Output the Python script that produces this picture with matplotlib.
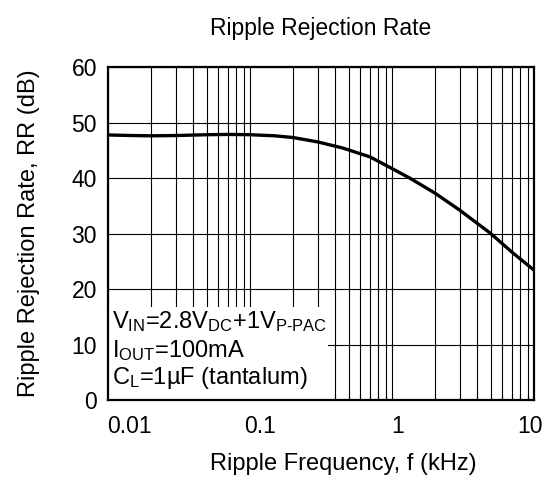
import matplotlib
matplotlib.use("Agg")
import matplotlib.pyplot as plt
import matplotlib.transforms as mtransforms
from matplotlib.patches import Rectangle
from matplotlib.ticker import LogLocator, NullFormatter

plt.rcParams['font.family'] = ['Liberation Sans', 'DejaVu Sans']
plt.rcParams['mathtext.fontset'] = 'custom'
plt.rcParams['mathtext.rm'] = 'Liberation Sans'
plt.rcParams['mathtext.it'] = 'Liberation Sans'

# data
freq_khz = [0.01, 0.015, 0.02, 0.03, 0.05, 0.07, 0.1, 0.15, 0.2, 0.3,
            0.45, 0.7, 0.92, 1.33, 2.0, 3.0, 4.9, 7.1, 10]
rr_db = [47.75, 47.65, 47.6, 47.65, 47.8, 47.85, 47.8, 47.6, 47.3, 46.5,
         45.4, 43.8, 42.2, 40.0, 37.3, 34.2, 30.1, 26.5, 23.4]
x_ticks = [0.01, 0.1, 1, 10]
x_tick_labels = ['0.01', '0.1', '1', '10']
y_ticks = [0, 10, 20, 30, 40, 50, 60]

fig = plt.figure(figsize=(5.59, 4.82), dpi=100)
ax = fig.add_axes([108/559, 1-400/482, (534-108)/559, (400-67)/482])

ax.set_xscale('log')
ax.set_xlim(0.01, 10)
ax.set_ylim(0, 60)

ax.xaxis.set_minor_locator(LogLocator(base=10, subs=range(2, 10)))
ax.xaxis.set_minor_formatter(NullFormatter())
ax.set_xticks(x_ticks)
ax.set_xticklabels(x_tick_labels)
ax.set_yticks(y_ticks)

ax.grid(which='major', axis='both', color='black', lw=0.8, zorder=1)
ax.grid(which='minor', axis='x', color='black', lw=0.8, zorder=1)

ax.tick_params(axis='both', which='both', direction='in', labelsize=16.5)
ax.tick_params(axis='x', which='major', length=0, pad=11)
ax.tick_params(axis='x', which='minor', length=4, width=0.8)
ax.tick_params(axis='y', which='major', length=0, pad=8)

# shift x tick labels like the reference
offsets = [21, 10, 6, -4]
for lbl, dx in zip(ax.get_xticklabels(), offsets):
    lbl.set_transform(lbl.get_transform() + mtransforms.ScaledTranslation(dx/100, 0, fig.dpi_scale_trans))

for sp in ax.spines.values():
    sp.set_linewidth(1.6)
    sp.set_zorder(5)

ax.plot(freq_khz, rr_db, color='black', lw=2.4, zorder=4, solid_capstyle='butt')

# white condition box
ax.add_patch(Rectangle((0, 0), 0.516, 0.28, transform=ax.transAxes,
                       facecolor='white', edgecolor='none', zorder=2))
fs = 17
ax.text(0.01, 0.216, r'V$_{\mathregular{IN}}$=2.8V$_{\mathregular{DC}}$+1V$_{\text{P-PAC}}$',
        transform=ax.transAxes, fontsize=fs, va='baseline', ha='left', zorder=3)
ax.text(0.01, 0.128, r'I$_{\mathregular{OUT}}$=100mA',
        transform=ax.transAxes, fontsize=fs, va='baseline', ha='left', zorder=3)
ax.text(0.01, 0.048, r'C$_{\mathregular{L}}$=1µF (tantalum)',
        transform=ax.transAxes, fontsize=fs, va='baseline', ha='left', zorder=3)

ax.set_title('Ripple Rejection Rate', fontsize=16.5, pad=23)
ax.set_xlabel('Ripple Frequency, f (kHz)', fontsize=17)
ax.xaxis.set_label_coords((343-108)/426, -0.16)
ax.set_ylabel('Ripple Rejection Rate, RR (dB)', fontsize=17)
ax.yaxis.set_label_coords(-0.16, 0.5)

fig.savefig('out.png', dpi=100)
